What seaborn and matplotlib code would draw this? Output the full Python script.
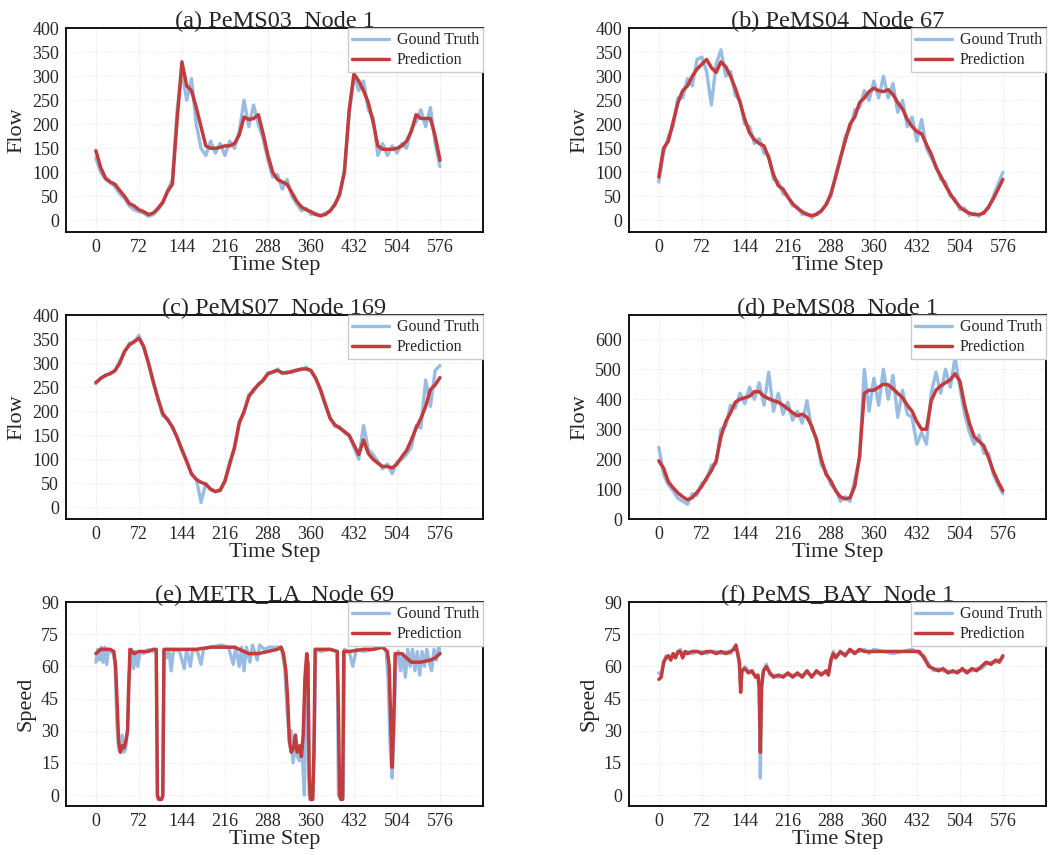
import numpy as np
import pandas as pd
import seaborn as sns
import matplotlib.pyplot as plt

# time steps every 8 for panels a-d
steps = list(range(0, 577, 8))

gt_a = [130, 100, 85, 78, 70, 55, 45, 30,
        22, 18, 15, 8, 12, 22, 35, 62,
        85, 230, 310, 250, 295, 200, 150, 135,
        165, 140, 160, 135, 165, 150, 185, 250,
        195, 240, 200, 170, 125, 90, 95, 65,
        85, 50, 35, 20, 25, 12, 15, 8,
        15, 18, 35, 50, 105, 220, 300, 270,
        290, 230, 215, 135, 160, 135, 155, 140,
        160, 150, 190, 205, 230, 195, 235, 160,
        112]
pred_a = [145, 110, 88, 80, 75, 62, 50, 35,
          30, 22, 18, 12, 15, 25, 38, 60,
          75, 210, 330, 280, 270, 235, 195, 155,
          150, 150, 152, 155, 155, 160, 178, 215,
          210, 212, 220, 180, 135, 100, 85, 80,
          75, 58, 40, 28, 22, 18, 12, 10,
          12, 20, 32, 55, 100, 230, 305, 290,
          270, 245, 205, 155, 148, 148, 148, 150,
          155, 165, 185, 220, 212, 212, 212, 175,
          125]

gt_b = [80, 140, 175, 195, 255, 255, 295, 280,
        335, 340, 310, 240, 325, 355, 300, 310,
        260, 250, 200, 195, 160, 170, 140, 135,
        85, 80, 55, 52, 30, 28, 12, 15,
        5, 15, 18, 35, 50, 95, 125, 175,
        190, 230, 235, 270, 250, 290, 255, 300,
        255, 285, 225, 250, 195, 215, 165, 210,
        150, 130, 115, 85, 80, 50, 45, 22,
        25, 10, 15, 8, 18, 25, 50, 75,
        100]
pred_b = [90, 150, 165, 205, 245, 270, 280, 300,
          315, 325, 335, 318, 308, 330, 320, 300,
          275, 245, 210, 182, 168, 160, 155, 130,
          95, 72, 65, 48, 35, 25, 18, 12,
          10, 12, 20, 32, 55, 90, 130, 165,
          200, 215, 245, 255, 268, 275, 270, 268,
          272, 262, 245, 232, 210, 195, 185, 180,
          158, 138, 110, 92, 72, 55, 40, 28,
          20, 15, 12, 12, 15, 28, 45, 65,
          85]

gt_c = [257, 270, 273, 280, 283, 305, 322, 342,
        343, 358, 332, 302, 258, 228, 190, 185,
        165, 148, 118, 98, 68, 60, 10, 50,
        36, 32, 38, 52, 95, 120, 180, 195,
        235, 240, 258, 262, 280, 280, 288, 278,
        282, 280, 287, 286, 292, 283, 270, 242,
        212, 188, 168, 168, 155, 148, 125, 100,
        170, 120, 110, 95, 80, 90, 70, 95,
        100, 110, 125, 170, 165, 265, 210, 285,
        295]
pred_c = [260, 268, 275, 278, 285, 300, 325, 338,
          345, 352, 335, 300, 262, 225, 195, 182,
          168, 145, 120, 95, 70, 58, 52, 48,
          38, 33, 35, 55, 90, 125, 175, 200,
          230, 245, 255, 265, 278, 282, 285, 280,
          280, 283, 285, 288, 288, 285, 268, 245,
          215, 185, 172, 165, 158, 150, 130, 110,
          140, 112, 100, 92, 85, 85, 82, 90,
          105, 118, 140, 165, 185, 210, 245, 255,
          270]

gt_d = [240, 150, 115, 95, 70, 60, 50, 85,
        80, 120, 130, 180, 185, 300, 310, 380,
        370, 420, 385, 440, 400, 455, 380, 490,
        360, 420, 350, 390, 330, 360, 320, 395,
        300, 270, 180, 160, 115, 100, 60, 75,
        60, 130, 200, 500, 360, 470, 380, 500,
        400, 480, 340, 430, 350, 340, 250, 290,
        250, 420, 490, 420, 500, 440, 540, 440,
        350, 290, 250, 280, 220, 220, 150, 115,
        85]
pred_d = [195, 170, 125, 105, 88, 75, 65, 72,
          90, 110, 138, 162, 195, 275, 325, 355,
          390, 400, 405, 410, 425, 425, 410, 402,
          395, 390, 380, 368, 355, 345, 350, 340,
          310, 265, 200, 150, 128, 95, 75, 68,
          72, 110, 210, 420, 430, 430, 440, 450,
          448, 435, 420, 405, 380, 360, 325, 300,
          300, 395, 430, 445, 455, 465, 485, 460,
          380, 320, 275, 260, 245, 205, 160, 125,
          95]

# METR_LA, irregular time steps
t_gt_e = [0, 3, 6, 9, 12, 15, 18, 21, 25, 29, 32, 35, 38, 41, 44, 47, 50, 53, 55, 57,
          60, 63, 66, 70, 74, 80, 88, 96, 101, 103, 108, 112, 114, 118, 122, 126, 130,
          140, 148, 152, 158, 162, 170, 176, 180, 192, 210, 222, 230, 234, 240, 244,
          248, 252, 258, 262, 270, 274, 282, 290, 304, 310, 316, 320, 324, 327, 330,
          334, 337, 341, 345, 349, 352, 355, 357, 360, 363, 366, 368, 376, 392, 404,
          406, 410, 414, 416, 424, 430, 436, 448, 464, 480, 486, 489, 493, 496, 499,
          502, 506, 510, 514, 518, 522, 526, 530, 534, 538, 542, 546, 550, 554, 558,
          562, 566, 570, 574, 576]
gt_e = [62, 68, 63, 69, 62, 69, 61, 68, 67, 66, 62, 35, 22, 20, 28, 20, 22, 30, 55, 60,
        68, 59, 67, 60, 67, 66, 68, 67, 67, -1, -2, -1, 67, 64, 68, 58, 68,
        67, 59, 68, 60, 68, 67, 61, 68, 69, 70, 69, 61, 69, 60, 69,
        58, 69, 62, 70, 63, 70, 68, 69, 69, 69, 60, 40, 25, 30, 15,
        28, 18, 16, 22, 0, 50, 62, 0, -2, -1, 30, 68, 67, 68, 67,
        0, -2, -1, 68, 67, 60, 68, 67, 68, 69, 67, 55, 20, 8, 30,
        62, 67, 58, 66, 55, 68, 60, 68, 58, 67, 56, 67, 60, 68, 62,
        58, 68, 63, 69, 66]
t_pred_e = [0, 4, 8, 16, 24, 30, 33, 36, 38, 41, 44, 47, 50, 53, 55, 57, 64, 72, 80, 88,
            96, 101, 103, 105, 110, 112, 114, 120, 144, 168, 192, 216, 232, 248, 256,
            272, 288, 304, 310, 314, 318, 321, 324, 327, 331, 334, 337, 341, 344, 347,
            350, 353, 355, 357, 359, 363, 365, 367, 376, 392, 404, 406, 408, 410, 413,
            415, 424, 448, 464, 480, 488, 491, 494, 496, 499, 501, 512, 520, 528, 544,
            560, 568, 576]
pred_e = [66, 67, 68, 68, 68, 67, 60, 40, 25, 20, 23, 22, 25, 30, 50, 68, 66, 67, 67, 67,
          68, 68, 0, -2, -2, 0, 68, 68, 68, 68, 69, 69, 69, 67, 66,
          66, 67, 68, 69, 66, 58, 45, 25, 20, 22, 28, 20, 23, 18, 28,
          55, 66, 60, 10, -2, -2, 20, 68, 68, 68, 67, 40, 0, -2, -2,
          67, 67, 68, 68, 69, 67, 60, 30, 13, 40, 66, 66, 64, 62, 62,
          63, 64, 66]

# PeMS_BAY
t_f = [0, 4, 8, 12, 16, 20, 24, 28, 32, 36, 40, 44, 48, 56, 64, 72, 80, 88, 96, 104,
       112, 120, 126, 129, 132, 135, 137, 139, 144, 150, 156, 162, 166, 168, 170, 172,
       175, 180, 186, 192, 200, 208, 216, 224, 232, 240, 248, 256, 264, 272, 280, 284,
       288, 292, 296, 304, 312, 320, 328, 336, 344, 352, 360, 376, 392, 408, 424, 436,
       444, 452, 460, 468, 476, 484, 492, 500, 508, 516, 524, 532, 540, 548, 556, 564,
       570, 576]
gt_f = [57, 56, 61, 65, 64, 64, 65, 65, 66, 68, 65, 66, 67, 66, 67, 67, 66, 67, 67, 66,
        67, 66, 69, 69, 67, 60, 50, 57, 60, 58, 57, 56, 55, 52, 8, 52,
        57, 61, 56, 56, 55, 56, 56, 56, 56, 56, 57, 56, 57, 57, 57, 57,
        62, 67, 65, 66, 66, 67, 67, 67, 68, 66, 68, 67, 66, 67, 68, 66,
        65, 61, 58, 59, 58, 58, 57, 58, 58, 58, 58, 59, 59, 61, 62, 62,
        63, 64]
pred_f = [54, 55, 62, 64, 65, 63, 66, 64, 67, 67, 64, 67, 66, 67, 67, 66, 67, 67, 66, 67,
          66, 67, 68, 70, 66, 62, 48, 58, 59, 57, 58, 55, 56, 50, 20, 50,
          58, 60, 57, 55, 56, 55, 57, 55, 57, 55, 58, 55, 58, 56, 58, 56,
          63, 66, 64, 67, 65, 68, 66, 68, 67, 67, 67, 67, 67, 67, 67, 67,
          64, 60, 59, 58, 59, 57, 58, 57, 59, 57, 59, 58, 60, 62, 61, 63,
          62, 65]

titles = ['(a) PeMS03  Node 1', '(b) PeMS04  Node 67', '(c) PeMS07  Node 169',
          '(d) PeMS08  Node 1', '(e) METR_LA  Node 69', '(f) PeMS_BAY  Node 1']
ylabels = ['Flow', 'Flow', 'Flow', 'Flow', 'Speed', 'Speed']

panels = [
    (steps, gt_a, steps, pred_a, (-25, 400), range(0, 401, 50)),
    (steps, gt_b, steps, pred_b, (-25, 400), range(0, 401, 50)),
    (steps, gt_c, steps, pred_c, (-25, 400), range(0, 401, 50)),
    (steps, gt_d, steps, pred_d, (0, 680), range(0, 601, 100)),
    (t_gt_e, gt_e, t_pred_e, pred_e, (-5.2, 90), range(0, 91, 15)),
    (t_f, gt_f, t_f, pred_f, (-5.2, 90), range(0, 91, 15)),
]

sns.set_theme(style='white')
plt.rcParams['font.family'] = ['Liberation Serif', 'DejaVu Serif']

fig, axes = plt.subplots(3, 2, figsize=(10.48, 8.55), dpi=100)
fig.subplots_adjust(left=0.063, right=0.998, top=0.967, bottom=0.057,
                    wspace=0.35, hspace=0.406)

for ax, (tg, g, tp, p, ylim, yt), title, yl in zip(axes.flat, panels, titles, ylabels):
    sns.lineplot(x=tg, y=g, ax=ax, color='#98bce2', lw=2.4, label='Gound Truth')
    sns.lineplot(x=tp, y=p, ax=ax, color='#c23c3e', lw=2.5, label='Prediction')
    ax.set_xlim(-50, 648)
    ax.set_ylim(*ylim)
    ax.set_xticks(range(0, 577, 72))
    ax.set_yticks(list(yt))
    ax.grid(True, ls=':', lw=0.6, color='#dcdcdc')
    for s in ax.spines.values():
        s.set_visible(True)
        s.set_color('black')
        s.set_linewidth(1.3)
    ax.tick_params(labelsize=13, length=0, pad=5)
    ax.set_title(title, fontsize=17.5, pad=1)
    ax.set_xlabel('Time Step', fontsize=16, labelpad=0)
    ax.set_ylabel(yl, fontsize=16, labelpad=4)
    ax.legend(loc='upper right', fontsize=11.5, borderaxespad=0, fancybox=False,
              edgecolor='#cccccc', framealpha=1, handlelength=2.3, borderpad=0.25,
              labelspacing=0.25, handletextpad=0.5)

plt.savefig('out.png', dpi=100)
